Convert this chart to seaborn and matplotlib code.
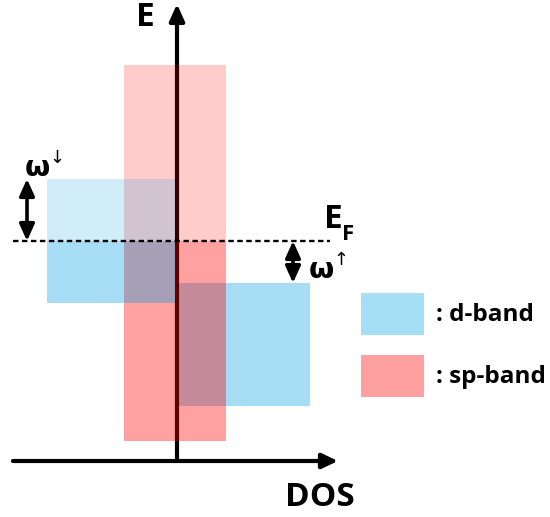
import matplotlib
matplotlib.use("Agg")
import matplotlib.pyplot as plt
import seaborn as sns

sns.set_theme(style="white")
plt.rcParams['font.family'] = ['Open Sans', 'DejaVu Sans']
plt.rcParams['text.color'] = 'black'

# ---- schematic data (DOS on x, energy on y; origin at axis crossing) ----
band_names = ["d-band (spin down)", "d-band (spin up)", "sp-band"]
band_dos_lo = [-130, 1, -53]
band_dos_hi = [-2, 133, 49]
band_e_lo = [158, 55, 20]
band_e_hi = [282, 178, 396]
e_fermi = 220
omega_down = [282, 220]   # arrow span (spin-down shift)
omega_up = [220, 178]     # arrow span (spin-up shift)
legend_labels = [": d-band", ": sp-band"]

BLUE = (0/255, 160/255, 226/255)
RED = (1.0, 0.0, 0.0)

fig = plt.figure(figsize=(5.5, 5.17), dpi=100)
ax = fig.add_axes([0, 0, 1, 1])
ax.set_xlim(-177, 373)
ax.set_ylim(-56, 461)
ax.axis("off")


def draw_band(i, color, a_low, a_high, z):
    lo, hi = band_e_lo[i], band_e_hi[i]
    x0, x1 = band_dos_lo[i], band_dos_hi[i]
    if lo < e_fermi:
        top = min(hi, e_fermi)
        ax.bar(x0, top - lo, width=x1 - x0, bottom=lo, align="edge",
               color=color, alpha=a_low, linewidth=0, zorder=z)
    if hi > e_fermi:
        bot = max(lo, e_fermi)
        ax.bar(x0, hi - bot, width=x1 - x0, bottom=bot, align="edge",
               color=color, alpha=a_high, linewidth=0, zorder=z)


# spin-up d band (under the axis and sp band)
draw_band(1, BLUE, 0.35, 0.18, 1)
# vertical energy axis
ax.annotate("", xy=(0, 457), xytext=(0, 0),
            arrowprops=dict(arrowstyle="-|>,head_length=1.0,head_width=0.45",
                            mutation_scale=10, lw=3.0, color="black",
                            shrinkA=0, shrinkB=0), zorder=2)
# sp band
draw_band(2, RED, 0.37, 0.2, 3)
# spin-down d band
draw_band(0, BLUE, 0.35, 0.18, 4)

# horizontal DOS axis
ax.annotate("", xy=(161, 0), xytext=(-164, 0),
            arrowprops=dict(arrowstyle="-|>,head_length=0.95,head_width=0.45",
                            mutation_scale=10, lw=3.0, color="black",
                            shrinkA=0, shrinkB=0), zorder=5)

# Fermi level
ax.plot([-164, 153], [e_fermi, e_fermi], color="black", lw=1.7,
        linestyle=(0, (2.3, 1.5)), zorder=6)

# omega arrows
for xpos, span in [(-150, omega_down), (116, omega_up)]:
    ax.annotate("", xy=(xpos, span[0]), xytext=(xpos, span[1]),
                arrowprops=dict(arrowstyle="<|-|>,head_length=1.0,head_width=0.45",
                                mutation_scale=10, lw=2.6, color="black",
                                shrinkA=0, shrinkB=0), zorder=7)

# labels
ax.text(-32, 443, "E", fontsize=24, fontweight="bold", ha="center", va="center")
ax.text(143, -36, "DOS", fontsize=24, fontweight="bold", ha="center", va="center")
ax.text(156, 241, "E", fontsize=24, fontweight="bold", ha="center", va="center")
ax.text(171, 226, "F", fontsize=16, fontweight="bold", ha="center", va="center")
ax.text(-140, 293, "ω", fontsize=21, fontweight="bold", ha="center", va="center",
        family=['DejaVu Sans'])
ax.text(-120, 303, "↓", fontsize=13, ha="center", va="center",
        family=['DejaVu Sans'])
ax.text(144, 191, "ω", fontsize=21, fontweight="bold", ha="center", va="center",
        family=['DejaVu Sans'])
ax.text(164, 201, "↑", fontsize=13, ha="center", va="center",
        family=['DejaVu Sans'])

# legend
legend_colors = [(163/255, 224/255, 245/255), (1.0, 160/255, 160/255)]
legend_e = [126, 64]
for col, e0, lab in zip(legend_colors, legend_e, legend_labels):
    ax.bar(184, 42, width=63, bottom=e0, align="edge", color=col,
           linewidth=0, zorder=2)
    ax.text(259, e0 + 20, lab, fontsize=17.5, fontweight="bold",
            ha="left", va="center")

fig.savefig("out.png", dpi=100)
